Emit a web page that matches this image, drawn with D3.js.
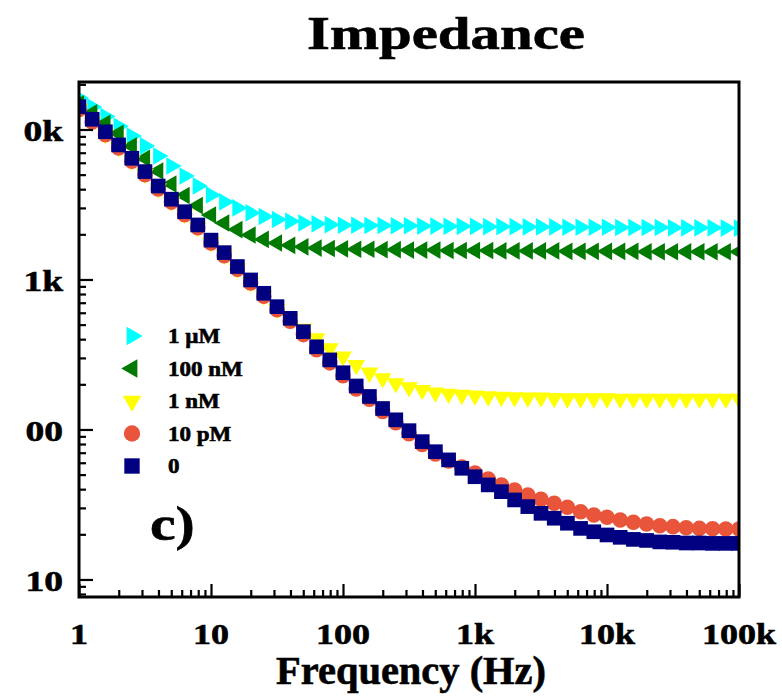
<!DOCTYPE html>
<html>
<head>
<meta charset="utf-8">
<script src="https://cdn.jsdelivr.net/npm/d3@7"></script>
<style>
  html, body { margin: 0; padding: 0; background: #ffffff; }
  svg { display: block; }
</style>
</head>
<body>
<svg id="chart" width="782" height="698"></svg>
<script>
// Sweep frequencies (Hz), 10 points per decade
const frequency = [1, 1.259, 1.585, 1.995, 2.512, 3.162, 3.981, 5.012, 6.31, 7.943,
  10, 12.59, 15.85, 19.95, 25.12, 31.62, 39.81, 50.12, 63.1, 79.43,
  100, 125.9, 158.5, 199.5, 251.2, 316.2, 398.1, 501.2, 631, 794.3,
  1000, 1259, 1585, 1995, 2512, 3162, 3981, 5012, 6310, 7943,
  10000, 12590, 15850, 19950, 25120, 31620, 39810, 50120, 63100, 79430, 100000];

// Impedance magnitude (ohm) per concentration
const z1uM = [16200, 14100, 12200, 10500, 9050, 7770, 6660, 5710, 4900, 4200,
  3660, 3290, 3000, 2780, 2630, 2510, 2440, 2380, 2350, 2320,
  2300, 2300, 2290, 2290, 2280, 2280, 2270, 2270, 2260, 2260,
  2260, 2250, 2250, 2250, 2240, 2240, 2240, 2230, 2230, 2230,
  2230, 2220, 2220, 2220, 2220, 2210, 2210, 2210, 2210, 2200, 2200];
const z100nM = [14800, 12900, 11000, 9430, 7770, 6430, 5290, 4330, 3630, 3110,
  2690, 2380, 2150, 1980, 1850, 1750, 1690, 1650, 1620, 1610,
  1600, 1590, 1590, 1580, 1580, 1570, 1570, 1570, 1560, 1560,
  1560, 1560, 1550, 1550, 1550, 1550, 1550, 1540, 1540, 1540,
  1540, 1540, 1540, 1530, 1530, 1530, 1530, 1530, 1530, 1530, 1530];
const z1nM = [13700, 11300, 9320, 7610, 6200, 5060, 4050, 3310, 2730, 2230,
  1770, 1460, 1180, 958, 781, 636, 545, 468, 405, 348,
  306, 269, 239, 219, 203, 191, 183, 176, 173, 170,
  168, 166, 165, 164, 163, 163, 162, 161, 161, 161,
  161, 160, 160, 160, 160, 160, 160, 160, 160, 160, 160];
const z10pM = [13600, 11200, 9230, 7540, 6140, 5000, 4010, 3280, 2700, 2210,
  1750, 1440, 1170, 948, 773, 629, 526, 429, 340, 278,
  228, 186, 159, 132, 111, 93.8, 79.3, 68.6, 61.7, 56.2,
  51.3, 46.8, 42.7, 39.5, 36.6, 34.3, 32.2, 30.3, 28.3, 26.9,
  26.0, 24.9, 24.1, 23.4, 22.8, 22.5, 22.1, 21.9, 21.8, 21.7, 21.7];
const z0 = [14200, 11700, 9660, 7890, 6430, 5240, 4200, 3430, 2830, 2310,
  1830, 1510, 1220, 993, 809, 659, 551, 449, 356, 291,
  239, 195, 166, 138, 116, 98.2, 83.0, 71.1, 62.7, 55.1,
  48.4, 42.7, 38.5, 33.9, 30.6, 27.6, 25.6, 23.7, 21.9, 20.8,
  19.8, 19.1, 18.5, 18.2, 17.8, 17.7, 17.5, 17.5, 17.4, 17.4, 17.4];

const seriesNames = ["1 \u00b5M", "100 nM", "1 nM", "10 pM", "0"];
const seriesValues = [z1uM, z100nM, z1nM, z10pM, z0];

const xTickValues = [1, 10, 100, 1000, 10000, 100000];
const xTickLabels = ["1", "10", "100", "1k", "10k", "100k"];
const yTickValues = [10, 100, 1000, 10000];
const yTickLabels = ["10", "00", "1k", "0k"];

// Marker styling per series
const styles = [
  { color: "#00ffff", shape: d3.symbolTriangle, rotate: 90, size: 135 },
  { color: "#007a00", shape: d3.symbolTriangle, rotate: -90, size: 135 },
  { color: "#ffff00", shape: d3.symbolTriangle, rotate: 180, size: 135 },
  { color: "#e8553a", shape: d3.symbolCircle, rotate: 0, size: 190 },
  { color: "#000080", shape: d3.symbolSquare, rotate: 0, size: 215 }
];

const SERIF = "'Liberation Serif', 'Times New Roman', serif";
const svg = d3.select("#chart");
const plotLeft = 79, plotRight = 739, plotTop = 82, plotBottom = 597;

const x = d3.scaleLog().domain([1, 1e5]).range([plotLeft, plotRight]);
const y = d3.scaleLog().domain([7.64, 20730]).range([plotBottom, plotTop]);

// Stretch text horizontally by a factor, or to a fixed width; a thin
// outline gives the heavy bold look
function stretch(sel, factor, width) {
  sel.each(function () {
    const w = width || this.getComputedTextLength() * factor;
    d3.select(this).attr("textLength", w).attr("lengthAdjust", "spacingAndGlyphs")
      .attr("stroke", "#000").attr("stroke-width", 0.6);
  });
}

// Markers, clipped to the plot frame
svg.append("clipPath").attr("id", "plot-clip")
  .append("rect").attr("x", plotLeft).attr("y", plotTop)
  .attr("width", plotRight - plotLeft).attr("height", plotBottom - plotTop);

const plot = svg.append("g").attr("clip-path", "url(#plot-clip)");
seriesValues.forEach((vals, s) => {
  const st = styles[s];
  const sym = d3.symbol().type(st.shape).size(st.size);
  plot.append("g").selectAll("path")
    .data(frequency.map((f, i) => [f, vals[i]]))
    .join("path")
    .attr("d", sym)
    .attr("fill", st.color)
    .attr("transform", d => `translate(${x(d[0])},${y(d[1])}) rotate(${st.rotate})`);
});

// Inward ticks: minor then major
const xMinor = x.ticks().filter(v => !xTickValues.includes(v));
const yMinor = y.ticks().filter(v => !yTickValues.includes(v));

function tickAxis(axis, values, size, transform) {
  const g = svg.append("g").attr("transform", transform)
    .call(axis.tickValues(values).tickSize(size).tickFormat(""));
  g.select(".domain").remove();
  g.selectAll("line").attr("stroke", "#000").attr("stroke-width", 2.2);
}
tickAxis(d3.axisBottom(x), xMinor, -7, `translate(0,${plotBottom})`);
tickAxis(d3.axisBottom(x), xTickValues, -13, `translate(0,${plotBottom})`);
tickAxis(d3.axisLeft(y), yMinor, -7, `translate(${plotLeft},0)`);
tickAxis(d3.axisLeft(y), yTickValues, -14, `translate(${plotLeft},0)`);

// Frame
svg.append("rect")
  .attr("x", plotLeft).attr("y", plotTop)
  .attr("width", plotRight - plotLeft).attr("height", plotBottom - plotTop)
  .attr("fill", "none").attr("stroke", "#000").attr("stroke-width", 3);

// Tick labels
const xl = svg.append("g").selectAll("text")
  .data(xTickValues).join("text")
  .attr("x", d => x(d)).attr("y", 644)
  .attr("text-anchor", "middle")
  .attr("font-family", SERIF).attr("font-weight", "bold").attr("font-size", 30)
  .text((d, i) => xTickLabels[i]);
stretch(xl, 1.2);

const yl = svg.append("g").selectAll("text")
  .data(yTickValues).join("text")
  .attr("x", 63).attr("y", d => y(d) + 11.5)
  .attr("text-anchor", "end")
  .attr("font-family", SERIF).attr("font-weight", "bold").attr("font-size", 30)
  .text((d, i) => yTickLabels[i]);
stretch(yl, 1.25);

// Titles
const title = svg.append("text")
  .attr("x", 446).attr("y", 49).attr("text-anchor", "middle")
  .attr("font-family", SERIF).attr("font-weight", "bold").attr("font-size", 47)
  .text("Impedance");
stretch(title, 1, 278);

const xTitle = svg.append("text")
  .attr("x", 411).attr("y", 684).attr("text-anchor", "middle")
  .attr("font-family", SERIF).attr("font-weight", "bold").attr("font-size", 40)
  .text("Frequency (Hz)");
stretch(xTitle, 1, 270);

// Panel letter
const panel = svg.append("text")
  .attr("x", 150).attr("y", 540)
  .attr("font-family", SERIF).attr("font-weight", "bold").attr("font-size", 48)
  .text("c)");
stretch(panel, 1.2);

// Legend
const legendY = [336, 368.5, 401, 433.5, 466];
const legend = svg.append("g");
seriesNames.forEach((name, s) => {
  const st = styles[s];
  legend.append("path")
    .attr("d", d3.symbol().type(st.shape).size(st.size * 1.1))
    .attr("fill", st.color)
    .attr("transform", `translate(132,${legendY[s]}) rotate(${st.rotate})`);
  const t = legend.append("text")
    .attr("x", 168).attr("y", legendY[s] + 7)
    .attr("font-family", SERIF).attr("font-weight", "bold").attr("font-size", 20)
    .text(name);
  stretch(t, 1.15);
});
</script>
</body>
</html>
